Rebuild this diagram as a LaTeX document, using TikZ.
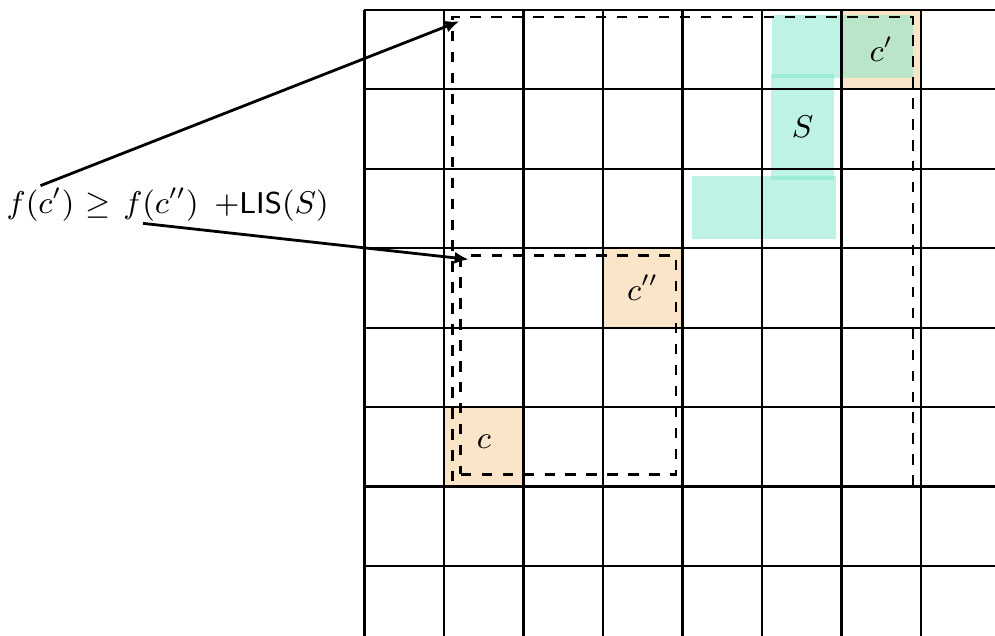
\documentclass[tikz,border=0pt]{standalone}
\usepackage{amsmath, amssymb}
\usepackage{tikz}
\usetikzlibrary{calc, positioning, arrows.meta, fit}
\definecolor{cellorange}{RGB}{251,229,200}
\definecolor{runteal}{RGB}{123,229,201}
\tikzset{
    every node/.style={font=\fontsize{8.6}{10}\selectfont},
    board/.style={semithick, step=0.8cm},
    cell/.style={rectangle, fill=cellorange, minimum size=0.8cm, inner sep=0pt},
    run/.style={fill=runteal, fill opacity=0.5},
    region/.style={rectangle, draw=black, thick, dashed, inner sep=0pt},
    term/.style={inner sep=0.5pt, anchor=base},
    arrow/.style={-{Latex[length=4pt, width=3.5pt]}, thick}
}

\begin{document}
\begin{tikzpicture}[x=0.8cm, y=0.8cm]
        \useasboundingbox (-4.585,0.12) rectangle (7.931,-7.868);
        \clip (-4.585,0.12) rectangle (7.931,-7.868);

        % marked cells
        \node[cell] (Cp) at (6.5,-0.5) {};
        \node[cell] (Cpp) at (3.5,-3.5) {};
        \node[cell] (C) at (1.5,-5.5) {};

        % the run S
        \fill[run] (5.122,-0.069) rectangle (6.903,-0.858);
        \fill[run] (5.113,-0.811) rectangle (5.906,-2.145);
        \fill[run] (4.119,-2.094) rectangle (5.931,-2.883);

        \draw[board] (0,0) grid (8,-8);

        \node at (Cp) {$c'$};
        \node at (Cpp) {$c''$};
        \node at ($(C)+(0,0.06)$) {$c$};
        \node at (5.51,-1.48) (S) {$S$};

        % dashed regions
        \coordinate (outerNW) at (1.109,-0.094);
        \coordinate (outerSE) at (6.899,-6);
        \node[region, fit=(outerNW)(outerSE)] (Outer) {};
        \coordinate (innerNW) at (1.21,-3.097);
        \coordinate (innerSE) at (3.918,-5.846);
        \node[region, fit=(innerNW)(innerSE)] (Inner) {};

        % inequality
        \node[term] (Lhs) at (-4.075,-2.56) {$f(c')$};
        \node[term] (Rel) at (-3.346,-2.56) {$\geq$};
        \node[term] (Mid) at (-2.56,-2.56) {$f(c'')$};
        \node[term] (Rhs) at (-1.17,-2.56) {$+\textsf{LIS}(S)$};

        \draw[arrow] (Lhs.north) -- ($(Outer.north west)+(0.1,-0.072)$);
        \draw[arrow] ($(Mid.south)+(-0.226,0)$) -- ($(Inner.north west)+(0.117,-0.063)$);
    \end{tikzpicture}
\end{document}
